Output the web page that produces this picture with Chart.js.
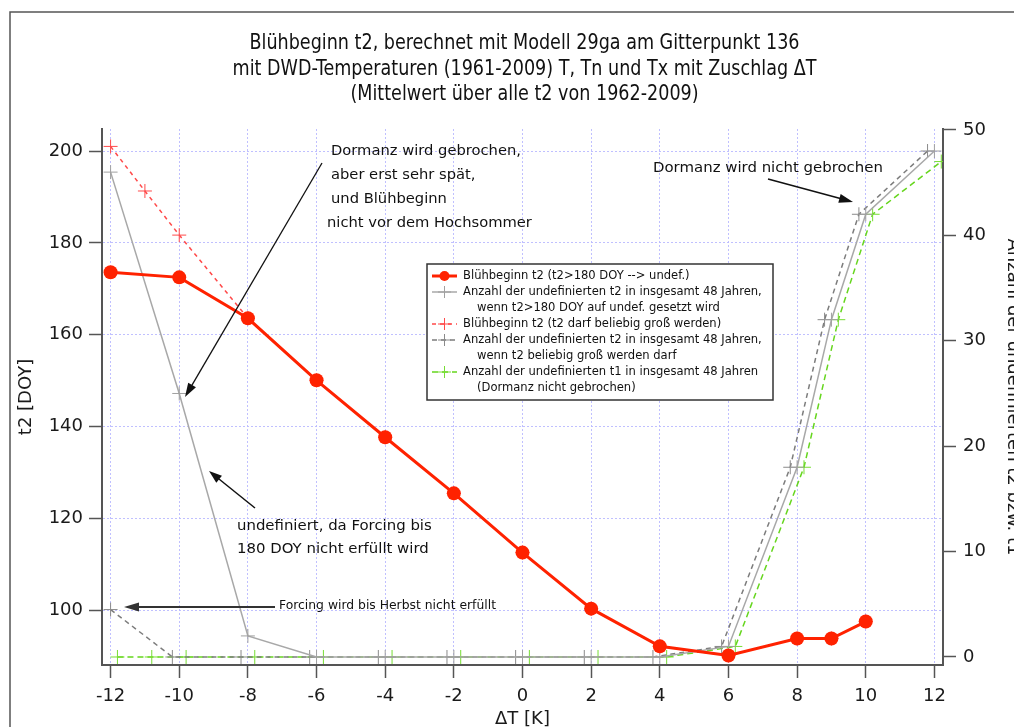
<!DOCTYPE html>
<html><head><meta charset="utf-8">
<script src="https://cdn.jsdelivr.net/npm/chart.js@4.4.1/dist/chart.umd.min.js"></script>
<style>html,body{margin:0;padding:0;background:#fff;overflow:hidden}#wrap{position:relative;width:1014px;height:727px}</style>
</head><body><div id="wrap"><canvas id="c" width="1014" height="727"></canvas></div>
<script>
// ---- text ----
const titleLines = [
  'Blühbeginn t2, berechnet mit Modell 29ga am Gitterpunkt 136',
  'mit DWD-Temperaturen (1961-2009) T, Tn und Tx mit Zuschlag ΔT',
  '(Mittelwert über alle t2 von 1962-2009)'
];
const xAxisTitle = 'ΔT [K]';
const leftAxisTitle = 't2 [DOY]';
const rightAxisTitle = 'Anzahl der undefinierten t2 bzw. t1';

// ---- ticks ----
const xTicks = [-12,-10,-8,-6,-4,-2,0,2,4,6,8,10,12];
const leftTicks = [100,120,140,160,180,200];
const rightTicks = [0,10,20,30,40,50];

// ---- series ----
// Blühbeginn t2 (t2>180 DOY --> undef.)  [left axis, DOY]
const xT2 = [-12,-10,-8,-6,-4,-2,0,2,4,6,8,9,10];
const t2Undef = [173.6,172.5,163.6,150.1,137.7,125.5,112.6,100.4,92.2,90.2,93.9,93.9,97.6];
// Blühbeginn t2 (t2 darf beliebig groß werden)  [left axis, DOY]
const xT2Free = [-12,-11,-10,-8,-6,-4,-2,0,2,4,6,8,9,10];
const t2Free = [201.0,191.3,181.7,163.6,150.1,137.7,125.5,112.6,100.4,92.2,90.2,93.9,93.9,97.6];
// Anzahl undefinierter t2 (t2>180 -> undef.)  [right axis]
const xCountUndef = [-12,-10,-8,-6,-4,-2,0,2,4,6,8,9,10,12];
const countUndef = [46,25,2,0,0,0,0,0,0,1,18,32,42,48];
// Anzahl undefinierter t2 (t2 beliebig groß)  [right axis]
const xCountFree = [-12,-10.2,-8.2,-6.2,-4.2,-2.2,-0.2,1.8,3.8,5.8,7.8,8.8,9.8,11.8];
const countFree = [4.5,0,0,0,0,0,0,0,0,1,18,32,42,48];
// Anzahl undefinierter t1 (Dormanz nicht gebrochen)  [right axis]
const xCountT1 = [-11.8,-10.8,-9.8,-7.8,-5.8,-3.8,-1.8,0.2,2.2,4.2,6.2,8.2,9.2,10.2,12.2];
const countT1 = [0,0,0,0,0,0,0,0,0,0,1,18,32,42,47];

const legendEntries = [
  {lines:['Blühbeginn t2 (t2>180 DOY --> undef.)'], ds:0},
  {lines:['Anzahl der undefinierten t2 in insgesamt 48 Jahren,','wenn t2>180 DOY auf undef. gesetzt wird'], ds:1},
  {lines:['Blühbeginn t2 (t2 darf beliebig groß werden)'], ds:2},
  {lines:['Anzahl der undefinierten t2 in insgesamt 48 Jahren,','wenn t2 beliebig groß werden darf'], ds:3},
  {lines:['Anzahl der undefinierten t1 in insgesamt 48 Jahren','(Dormanz nicht gebrochen)'], ds:4}
];

const annoA = ['Dormanz wird gebrochen,','aber erst sehr spät,','und Blühbeginn','nicht vor dem Hochsommer'];
const annoB = ['undefiniert, da Forcing bis','180 DOY nicht erfüllt wird'];
const annoC = 'Forcing wird bis Herbst nicht erfüllt';
const annoD = 'Dormanz wird nicht gebrochen';

// ---- helpers ----
const FONT = '"DejaVu Sans", "Liberation Sans", sans-serif';
const pts = (xs, ys) => xs.map((x, i) => ({x, y: ys[i]}));
function fitSize(ctx, text, family, target) {
  ctx.save(); ctx.font = '100px ' + family;
  const w = ctx.measureText(text).width; ctx.restore();
  return 100 * target / w;
}
function arrow(ctx, x1, y1, x2, y2, color, lw, hl, hw) {
  const a = Math.atan2(y2 - y1, x2 - x1);
  ctx.save();
  ctx.strokeStyle = color; ctx.fillStyle = color; ctx.lineWidth = lw;
  ctx.beginPath(); ctx.moveTo(x1, y1);
  ctx.lineTo(x2 - Math.cos(a) * hl * 0.8, y2 - Math.sin(a) * hl * 0.8); ctx.stroke();
  ctx.beginPath();
  ctx.moveTo(x2, y2);
  ctx.lineTo(x2 - Math.cos(a) * hl - Math.sin(a) * hw, y2 - Math.sin(a) * hl + Math.cos(a) * hw);
  ctx.lineTo(x2 - Math.cos(a) * hl + Math.sin(a) * hw, y2 - Math.sin(a) * hl - Math.cos(a) * hw);
  ctx.closePath(); ctx.fill();
  ctx.restore();
}

const decor = {
  id: 'decor',
  beforeDraw(chart) {
    const ctx = chart.ctx;
    ctx.save();
    ctx.fillStyle = '#fff'; ctx.fillRect(0, 0, chart.width, chart.height);
    ctx.strokeStyle = '#555'; ctx.lineWidth = 1.5;
    ctx.beginPath(); ctx.moveTo(10, chart.height + 2); ctx.lineTo(10, 12); ctx.lineTo(chart.width + 2, 12); ctx.stroke();
    ctx.restore();
  },
  afterDraw(chart) {
    const ctx = chart.ctx;
    const ca = chart.chartArea;
    // title (narrow face)
    ctx.save();
    const tFam = '"Liberation Sans Narrow", "DejaVu Sans Condensed", "Liberation Sans", sans-serif';
    ctx.font = '21px ' + tFam;
    const w0 = ctx.measureText(titleLines[0]).width;
    const sx = 550 / w0;
    ctx.fillStyle = '#111'; ctx.textAlign = 'center'; ctx.textBaseline = 'middle';
    const cx = (ca.left + ca.right) / 2 + 2;
    [44, 70, 95].forEach((y, i) => {
      ctx.save(); ctx.translate(cx, y); ctx.scale(sx, 1);
      ctx.fillText(titleLines[i], 0, 0); ctx.restore();
    });
    ctx.restore();

    // annotations
    ctx.save();
    ctx.fillStyle = '#111'; ctx.textAlign = 'left'; ctx.textBaseline = 'middle';
    let s = fitSize(ctx, annoA[0], FONT, 190);
    ctx.font = s.toFixed(2) + 'px ' + FONT;
    [[331,151],[331,175],[331,199],[327,223]].forEach((p, i) => ctx.fillText(annoA[i], p[0], p[1]));
    s = fitSize(ctx, annoB[0], FONT, 195);
    ctx.font = s.toFixed(2) + 'px ' + FONT;
    ctx.fillText(annoB[0], 237, 526); ctx.fillText(annoB[1], 237, 549);
    s = fitSize(ctx, annoD, FONT, 230);
    ctx.font = s.toFixed(2) + 'px ' + FONT;
    ctx.fillText(annoD, 653, 168);
    s = fitSize(ctx, annoC, FONT, 217);
    ctx.font = s.toFixed(2) + 'px ' + FONT;
    ctx.fillText(annoC, 279, 606);
    ctx.restore();
    arrow(ctx, 322, 163, 185, 397, '#111', 1.3, 14, 4.5);
    arrow(ctx, 255, 508, 209, 471, '#111', 1.5, 13, 4.5);
    arrow(ctx, 768, 179, 853, 202, '#111', 1.5, 14, 4.5);
    arrow(ctx, 275, 607, 124, 607, '#333', 2.2, 15, 4.5);

    // legend box
    ctx.save();
    const bx = 427, by = 264, bw = 346, bh = 136;
    ctx.fillStyle = '#fff'; ctx.fillRect(bx, by, bw, bh);
    ctx.strokeStyle = '#333'; ctx.lineWidth = 1.5; ctx.strokeRect(bx, by, bw, bh);
    const ls = fitSize(ctx, legendEntries[1].lines[0], FONT, 299);
    ctx.font = ls.toFixed(2) + 'px ' + FONT;
    ctx.textAlign = 'left'; ctx.textBaseline = 'middle'; ctx.fillStyle = '#111';
    const rowH = 16.0;
    let row = 0;
    legendEntries.forEach(e => {
      const y = by + 12 + row * rowH;
      const d = chart.data.datasets[e.ds];
      ctx.save();
      ctx.strokeStyle = d.borderColor; ctx.lineWidth = Math.min(d.borderWidth, 3);
      ctx.setLineDash(d.borderDash || []);
      ctx.beginPath(); ctx.moveTo(432, y); ctx.lineTo(457, y); ctx.stroke();
      ctx.setLineDash([]);
      if (d.pointStyle === 'circle') {
        ctx.fillStyle = d.backgroundColor; ctx.beginPath(); ctx.arc(444.5, y, 5, 0, Math.PI * 2); ctx.fill();
      } else {
        ctx.lineWidth = 1; ctx.strokeStyle = d.pointBorderColor;
        ctx.beginPath(); ctx.moveTo(438, y); ctx.lineTo(451, y); ctx.moveTo(444.5, y - 6); ctx.lineTo(444.5, y + 6); ctx.stroke();
      }
      ctx.restore();
      e.lines.forEach((t, k) => {
        ctx.fillText(t, k === 0 ? 463 : 477, by + 12 + (row + k) * rowH);
      });
      row += e.lines.length;
    });
    ctx.restore();
  }
};

const axisColor = '#555';
const gridColor = 'rgba(185,185,255,0.9)';
const tickFont = {family: FONT, size: 18};

new Chart(document.getElementById('c'), {
  type: 'line',
  data: {
    datasets: [
      {label: legendEntries[0].lines[0], data: pts(xT2, t2Undef), yAxisID: 'y',
        borderColor: '#ff2200', backgroundColor: '#ff2200', borderWidth: 3,
        pointStyle: 'circle', pointRadius: 7, pointBorderWidth: 0, pointBackgroundColor: '#ff2200'},
      {label: legendEntries[1].lines.join(' '), data: pts(xCountUndef, countUndef), yAxisID: 'y2',
        borderColor: '#a8a8a8', pointBorderColor: '#a0a0a0', borderWidth: 1.5,
        pointStyle: 'cross', pointRadius: 7, pointBorderWidth: 1},
      {label: legendEntries[2].lines[0], data: pts(xT2Free, t2Free), yAxisID: 'y',
        borderColor: '#ff4a4a', pointBorderColor: '#ff4a4a', borderWidth: 1.5, borderDash: [4, 4],
        pointStyle: 'cross', pointRadius: 7, pointBorderWidth: 1},
      {label: legendEntries[3].lines.join(' '), data: pts(xCountFree, countFree), yAxisID: 'y2',
        borderColor: '#7c7c7c', pointBorderColor: '#8a8a8a', borderWidth: 1.5, borderDash: [5, 4],
        pointStyle: 'cross', pointRadius: 7, pointBorderWidth: 1},
      {label: legendEntries[4].lines.join(' '), data: pts(xCountT1, countT1), yAxisID: 'y2',
        borderColor: '#66d61e', pointBorderColor: '#77dd33', borderWidth: 1.5, borderDash: [6, 4],
        pointStyle: 'cross', pointRadius: 7, pointBorderWidth: 1}
    ]
  },
  options: {
    responsive: false, animation: false, events: [],
    layout: {padding: {top: 129, left: 0, right: 0, bottom: 0}},
    plugins: {legend: {display: false}, title: {display: false}, tooltip: {enabled: false}},
    elements: {line: {tension: 0}},
    scales: {
      x: {
        type: 'linear', min: -12.25, max: 12.25,
        afterBuildTicks: s => { s.ticks = xTicks.map(v => ({value: v})); },
        afterFit: s => { s.height = 62; },
        ticks: {autoSkip: false, maxRotation: 0, padding: 8, color: '#1a1a1a', font: tickFont, callback: v => String(v)},
        grid: {color: gridColor, lineWidth: 1, drawTicks: true, tickLength: 13, tickColor: axisColor, tickWidth: 1.5},
        border: {display: true, color: axisColor, width: 2, dash: [2, 2]},
        title: {display: true, text: xAxisTitle, color: '#1a1a1a', font: {family: FONT, size: 18, lineHeight: 1}, padding: {top: 0, bottom: -1}}
      },
      y: {
        position: 'left', min: 88.14, max: 204.79,
        afterBuildTicks: s => { s.ticks = leftTicks.map(v => ({value: v})); },
        afterFit: s => { s.width = 102; },
        ticks: {padding: 6, color: '#1a1a1a', font: tickFont, callback: v => String(v)},
        grid: {color: gridColor, lineWidth: 1, drawTicks: true, tickLength: 13, tickColor: axisColor, tickWidth: 1.5},
        border: {display: true, color: axisColor, width: 2, dash: [2, 2]},
        title: {display: true, text: leftAxisTitle, color: '#1a1a1a', font: {family: FONT, size: 18, lineHeight: 1}, padding: {top: 17, bottom: 0}}
      },
      y2: {
        position: 'right', min: -0.76, max: 50.09,
        afterBuildTicks: s => { s.ticks = rightTicks.map(v => ({value: v})); },
        afterFit: s => { s.width = 71; },
        ticks: {padding: 7, color: '#1a1a1a', font: tickFont, callback: v => String(v)},
        grid: {drawOnChartArea: false, drawTicks: true, tickLength: 13, tickColor: axisColor, tickWidth: 1.5},
        border: {display: true, color: axisColor, width: 2},
        title: {display: true, text: rightAxisTitle, color: '#1a1a1a', font: {family: FONT, size: 18, lineHeight: 1}, padding: {top: -8, bottom: 0}}
      }
    }
  },
  plugins: [decor]
});
</script></body></html>
